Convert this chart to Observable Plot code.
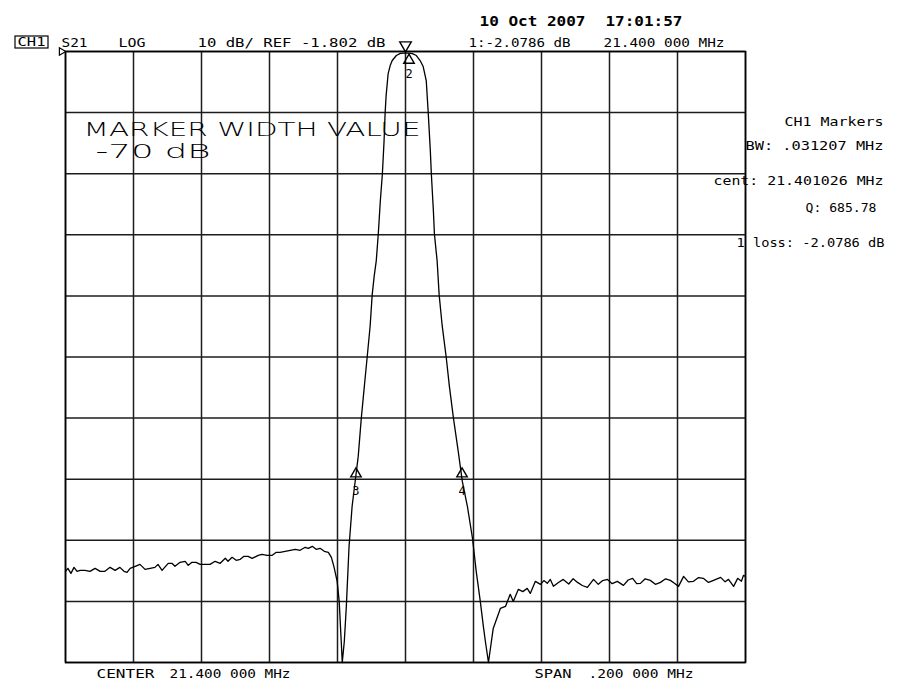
<!DOCTYPE html>
<html>
<head>
<meta charset="utf-8">
<script src="https://cdn.jsdelivr.net/npm/d3@7"></script>
<script src="https://cdn.jsdelivr.net/npm/@observablehq/plot@0.6"></script>
<style>
  html, body { margin: 0; padding: 0; background: #fff; }
  #chart { width: 909px; height: 687px; }
</style>
</head>
<body>
<div id="chart"></div>
<script>
// ---- Trace data: S21 (dB) versus frequency (MHz) ----
const freqMHz = [
  21.3000, 21.3007, 21.3016, 21.3025, 21.3034, 21.3043, 21.3057, 21.3072, 21.3087, 21.3102,
  21.3116, 21.3131, 21.3146, 21.3160, 21.3172, 21.3181, 21.3190, 21.3205, 21.3219, 21.3234,
  21.3249, 21.3263, 21.3272, 21.3284, 21.3302, 21.3313, 21.3322, 21.3337, 21.3352, 21.3361,
  21.3372, 21.3384, 21.3396, 21.3411, 21.3425, 21.3440, 21.3455, 21.3470, 21.3478, 21.3490,
  21.3502, 21.3514, 21.3525, 21.3537, 21.3549, 21.3567, 21.3578, 21.3593, 21.3608, 21.3620,
  21.3631, 21.3646, 21.3661, 21.3676, 21.3690, 21.3705, 21.3714, 21.3726, 21.3737, 21.3749,
  21.3761, 21.3773, 21.3782, 21.3790, 21.3799, 21.3805, 21.3811, 21.3814, 21.3820, 21.3826,
  21.3834, 21.3843, 21.3852, 21.3861, 21.3870, 21.3879, 21.3887, 21.3896, 21.3902, 21.3908,
  21.3914, 21.3920, 21.3926, 21.3932, 21.3937, 21.3940, 21.3943, 21.3949, 21.3955, 21.3961,
  21.3973, 21.3985, 21.3996, 21.4008, 21.4020, 21.4032, 21.4043, 21.4052, 21.4061, 21.4067,
  21.4073, 21.4076, 21.4082, 21.4085, 21.4093, 21.4099, 21.4108, 21.4120, 21.4129, 21.4141,
  21.4155, 21.4167, 21.4182, 21.4197, 21.4208, 21.4220, 21.4229, 21.4235, 21.4244, 21.4258,
  21.4279, 21.4294, 21.4308, 21.4317, 21.4332, 21.4345, 21.4358, 21.4367, 21.4382, 21.4397,
  21.4407, 21.4417, 21.4426, 21.4435, 21.4450, 21.4464, 21.4480, 21.4493, 21.4506, 21.4520,
  21.4535, 21.4553, 21.4567, 21.4580, 21.4594, 21.4608, 21.4623, 21.4641, 21.4655, 21.4668,
  21.4680, 21.4691, 21.4705, 21.4720, 21.4735, 21.4750, 21.4765, 21.4779, 21.4790, 21.4803,
  21.4818, 21.4832, 21.4847, 21.4862, 21.4876, 21.4891, 21.4906, 21.4927, 21.4940, 21.4950,
  21.4965, 21.4977, 21.4988, 21.4994, 21.5000
];
const s21dB = [
  -86.88, -86.39, -87.21, -86.23, -86.88, -86.72, -86.72, -86.88, -86.39, -86.88,
  -86.88, -86.23, -86.72, -86.23, -86.88, -87.05, -86.39, -86.06, -85.74, -86.56,
  -86.39, -86.23, -85.74, -86.72, -85.57, -85.57, -86.06, -85.41, -85.24, -85.90,
  -85.41, -85.41, -85.74, -85.74, -85.74, -85.24, -85.57, -84.75, -85.24, -84.59,
  -85.08, -84.92, -84.43, -84.43, -84.75, -84.26, -84.10, -84.26, -84.26, -83.77,
  -83.77, -83.61, -83.44, -83.28, -83.44, -82.95, -83.11, -82.79, -83.28, -83.11,
  -83.61, -83.77, -84.59, -86.23, -88.52, -91.80, -98.36, -101.80, -98.36, -92.62,
  -82.79, -76.23, -72.13, -68.03, -61.80, -56.56, -51.97, -46.72, -41.64, -38.52,
  -36.06, -31.64, -26.23, -21.80, -16.39, -11.97, -9.02, -5.41, -4.10, -3.28,
  -2.46, -2.12, -2.08, -2.08, -2.15, -2.46, -3.28, -4.26, -6.56, -11.97,
  -18.03, -21.80, -27.87, -31.64, -36.06, -41.64, -46.72, -51.97, -56.56, -61.80,
  -67.21, -72.13, -76.23, -81.47, -86.88, -91.80, -95.90, -98.36, -101.80, -96.23,
  -92.95, -92.62, -90.65, -91.80, -89.83, -90.20, -89.67, -90.49, -88.52, -89.01,
  -88.40, -88.85, -88.20, -89.34, -88.70, -88.20, -88.95, -88.10, -88.69, -89.20,
  -89.51, -88.20, -89.01, -88.40, -88.20, -88.90, -88.52, -89.18, -88.30, -88.03,
  -88.90, -88.85, -88.10, -88.36, -89.00, -88.69, -88.10, -88.36, -88.80, -89.34,
  -87.70, -88.60, -88.52, -87.90, -88.03, -88.70, -88.36, -87.87, -88.60, -88.20,
  -89.34, -88.03, -88.50, -87.54, -87.70
];

// ---- Markers ----
const markerLabel = ["1", "2", "3", "4"];
const markerFreq  = [21.400000, 21.401026, 21.385423, 21.416629];
const markerDb    = [-2.0786, -2.0786, -72.0786, -72.0786];

// ---- Graticule (10 dB/div, ref -1.802 dB; span 0.2 MHz, 0.02 MHz/div) ----
const xGrid = [21.30, 21.32, 21.34, 21.36, 21.38, 21.40, 21.42, 21.44, 21.46, 21.48, 21.50];
const yGrid = [-1.802, -11.802, -21.802, -31.802, -41.802, -51.802, -61.802, -71.802, -81.802, -91.802, -101.802];
const refLevel = [-1.802];

// ---- Text ----
const headerTexts = ["CH1", "S21", "LOG", "10 dB/ REF -1.802 dB", "1:-2.0786 dB", "21.400 000 MHz"];
const dateTexts = ["10 Oct 2007", "17:01:57"];
const sideTexts = ["CH1 Markers", "BW: .031207 MHz", "cent: 21.401026 MHz", "Q: 685.78", "1 loss: -2.0786 dB"];
const bigTexts = ["MARKER WIDTH VALUE", "-70 dB"];
const footTexts = ["CENTER", "21.400 000 MHz", "SPAN", ".200 000 MHz"];

const trace = freqMHz.map((f, i) => ({f, db: s21dB[i]}));
const markers = markerLabel.map((m, i) => ({m, f: markerFreq[i], db: markerDb[i]}));

const ML = 65, MT = 51;
const mono = "'DejaVu Sans Mono', 'Liberation Mono', monospace";
// layout of annotation text: [text, left x, center y, width, fontSize, weight, family]
const layout = [
  [headerTexts[0], 17, 42, 28, 12, "normal", mono],
  [headerTexts[1], 61, 42, 26, 13, "normal", mono],
  [headerTexts[2], 118, 42, 27, 13, "normal", mono],
  [headerTexts[3], 197, 42, 188, 13, "normal", mono],
  [headerTexts[4], 468, 42, 102, 13, "normal", mono],
  [headerTexts[5], 603, 42, 120, 13, "normal", mono],
  [dateTexts[0], 479, 21, 106, 14, "bold", mono],
  [dateTexts[1], 605, 21, 77, 14, "bold", mono],
  [sideTexts[0], 784, 121, 99, 13, "normal", mono],
  [sideTexts[1], 745, 145, 138, 13, "normal", mono],
  [sideTexts[2], 713, 180, 170, 13, "normal", mono],
  [sideTexts[3], 805, 207, 71, 13, "normal", mono],
  [sideTexts[4], 736, 242, 148, 13, "normal", mono],
  [footTexts[0], 96, 673, 58, 13, "normal", mono],
  [footTexts[1], 169, 673, 121, 13, "normal", mono],
  [footTexts[2], 534, 673, 37, 13, "normal", mono],
  [footTexts[3], 588, 673, 105, 13, "normal", mono]
];

const textMarks = layout.map(([t, x, y, w, fs, fw, ff]) =>
  Plot.text([t], {
    text: d => d, frameAnchor: "top-left", dx: x - ML, dy: y - MT,
    textAnchor: "start", lineAnchor: "middle",
    fontSize: fs, fontWeight: fw, fontFamily: ff, fill: "#000"
  })
);

// two-line big annotation inside the graticule
const bigNote = Plot.text([bigTexts.join("\n")], {
  text: d => d, frameAnchor: "top-left", dx: 83 - ML, dy: 139 - MT,
  textAnchor: "start", lineAnchor: "middle", lineHeight: 1.17,
  fontSize: 19, fontWeight: 200, fontFamily: "'DejaVu Sans', sans-serif", fill: "#000",
  className: "bignote"
});

const chart = Plot.plot({
  width: 909, height: 687,
  marginTop: MT, marginRight: 164, marginBottom: 25, marginLeft: ML,
  x: {domain: [21.3, 21.5], axis: null},
  y: {domain: [-101.802, -1.802], axis: null},
  style: {background: "#fff", color: "#000", fontFamily: mono},
  marks: [
    Plot.ruleX(xGrid, {stroke: "#1c1c1c", strokeWidth: 1.5}),
    Plot.ruleY(yGrid, {stroke: "#1c1c1c", strokeWidth: 1.5}),
    Plot.line(trace, {x: "f", y: "db", stroke: "#000", strokeWidth: 1.3, curve: "linear"}),
    // reference-level pointer
    Plot.dot(refLevel, {x: () => 21.3, y: d => d, symbol: "triangle2", rotate: 90, r: 3.5, dx: -4, stroke: "#000", strokeWidth: 1.2, fill: "#fff"}),
    // active marker 1 (inverted triangle above trace)
    Plot.dot(markers.filter(d => d.m === "1"), {x: "f", y: "db", symbol: "triangle2", rotate: 180, r: 5.5, dy: -8, stroke: "#000", strokeWidth: 1.4, fill: "none"}),
    // marker 2
    Plot.dot(markers.filter(d => d.m === "2"), {x: "f", y: "db", symbol: "triangle2", r: 5, dy: 7, stroke: "#000", strokeWidth: 1.4, fill: "none"}),
    Plot.text(markers.filter(d => d.m === "2"), {x: "f", y: "db", text: "m", dy: 21, fontSize: 12, fontFamily: mono}),
    // bandwidth markers 3 and 4
    Plot.dot(markers.filter(d => d.m === "3" || d.m === "4"), {x: "f", y: "db", symbol: "triangle2", r: 5, dy: -7, stroke: "#000", strokeWidth: 1.4, fill: "none"}),
    Plot.text(markers.filter(d => d.m === "3" || d.m === "4"), {x: "f", y: "db", text: "m", dy: 10, fontSize: 12, fontFamily: mono}),
    Plot.frame({stroke: "#000", strokeWidth: 1.6}),
    bigNote,
    ...textMarks
  ]
});

document.getElementById("chart").appendChild(chart);

// fit annotation widths
const widths = new Map(layout.map(l => [l[0], l[3]]));
d3.select(chart).selectAll("text").each(function () {
  const t = this.textContent;
  if (widths.has(t)) {
    this.setAttribute("textLength", widths.get(t));
    this.setAttribute("lengthAdjust", "spacingAndGlyphs");
  }
});
// big note: stretch each line, indent the second
const bigWidths = [337, 115];
d3.select(chart).selectAll(".bignote text tspan").each(function (d, i) {
  this.setAttribute("textLength", bigWidths[i]);
  this.setAttribute("lengthAdjust", "spacingAndGlyphs");
  if (i === 1) this.setAttribute("x", 12);
});
// boxed channel label
d3.select(chart).append("rect")
  .attr("x", 15).attr("y", 36).attr("width", 33).attr("height", 12)
  .attr("fill", "none").attr("stroke", "#000").attr("stroke-width", 1.2);
</script>
</body>
</html>
